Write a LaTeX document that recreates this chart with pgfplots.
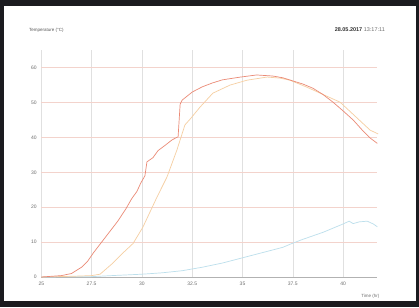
\documentclass[border=0pt]{standalone}
\usepackage{fontspec}
\setmainfont{Liberation Sans}
\usepackage{pgfplots}
\pgfplotsset{compat=1.18}
\definecolor{frame}{HTML}{1B1B1F}
\definecolor{cred}{HTML}{EB8A76}
\definecolor{corange}{HTML}{F6CFA2}
\definecolor{cblue}{HTML}{BCDFEC}
\definecolor{hgrid}{HTML}{F3D3CC}
\definecolor{vgrid}{HTML}{E0E0E0}
\definecolor{lbl}{HTML}{6E6E6E}
\begin{document}
\begin{tikzpicture}
\path[use as bounding box, fill=frame] (0,0) rectangle (419pt,307pt);
\fill[white] (4pt,6pt) rectangle (416pt,301pt);
\begin{axis}[
  at={(41.3pt,30pt)}, anchor=south west,
  scale only axis, width=336pt, height=226.8pt,
  xmin=25, xmax=41.7, ymin=0, ymax=65,
  xtick={25,27.5,30,32.5,35,37.5,40},
  xticklabels={25,27.5,30,32.5,35,37.5,40},
  ytick={0,10,20,30,40,50,60},
  axis y line*=left,
  y axis line style={draw=none},
  axis x line*=bottom,
  x axis line style={draw=gray!60, line width=0.5pt, -},
  major tick length=0pt,
  xmajorgrids, ymajorgrids,
  x grid style={vgrid, line width=0.5pt},
  y grid style={hgrid, line width=0.5pt},
  /pgf/number format/assume math mode=true,
  tick label style={font=\fontsize{5}{6}\selectfont, text=lbl},
  yticklabel style={xshift=-1pt},
  xticklabel style={yshift=-1pt},
  ytick style={draw=none}, xtick style={draw=none},
  clip=false,
  xlabel={Time (hr)},
  x label style={at={(axis description cs:1.017,-0.084)}, anchor=east, font=\fontsize{4.5}{5}\selectfont, text=lbl},
]
\addplot[cblue, line width=0.7pt] coordinates {
(25,0) (27.5,0.1) (28.5,0.4) (30,0.8) (31,1.2) (32,1.8) (33,2.8) (34,4.0) (35,5.5) (36,7.0) (37,8.5) (37.5,9.7) (38,10.8) (38.5,11.8) (39,12.8) (39.5,14.0) (40,15.2) (40.3,16.0) (40.5,15.3) (40.8,15.8) (41.2,16.0) (41.5,15.2) (41.7,14.4)};
\addplot[corange, line width=0.7pt] coordinates {
(25,0) (26.5,0.2) (27.5,0.4) (27.92,0.8) (28.56,4) (29.06,6.9) (29.56,9.6) (30.05,14.3) (30.75,22.9) (31.25,28.7) (31.74,36.4) (32.14,43.6) (32.39,45.2) (32.89,48.7) (33.53,52.7) (34.38,55) (35.22,56.4) (36.22,57.3) (36.86,57) (37.36,56.4) (38.2,54.4) (39.85,50.1) (41.34,42.1) (41.74,41)};
\addplot[cred, line width=0.7pt] coordinates {
(25,0) (25.5,0.2) (26,0.4) (26.5,1.0) (27,2.8) (27.3,4.5) (27.6,7) (28,10) (28.4,13) (28.8,16) (29.2,19.5) (29.5,22.5) (29.75,24.5) (29.95,27) (30.15,29) (30.25,33) (30.55,34.2) (30.8,36.2) (31.1,37.5) (31.5,39.3) (31.8,40.2) (31.9,49.5) (32.0,50.7) (32.5,53) (33,54.5) (33.5,55.6) (34,56.5) (34.9,57.3) (35.7,57.9) (36.5,57.6) (37,57.1) (37.5,56.2) (38,55.3) (38.5,54.1) (39,52.3) (39.5,50.1) (40,47.6) (40.5,45) (41,41.8) (41.35,39.8) (41.7,38.3)};
\node[anchor=west, font=\fontsize{4.5}{5}\selectfont, text=lbl!80!black, inner sep=0pt] at (axis description cs:-0.037,1.089) {Temperature (°C)};
\node[anchor=east, font=\fontsize{5.5}{6}\selectfont, inner sep=0pt] at (axis description cs:1.023,1.089) {\textbf{\textcolor{black!80}{28.05.2017}} \textcolor{lbl}{13:17:11}};
\end{axis}
\end{tikzpicture}
\end{document}
